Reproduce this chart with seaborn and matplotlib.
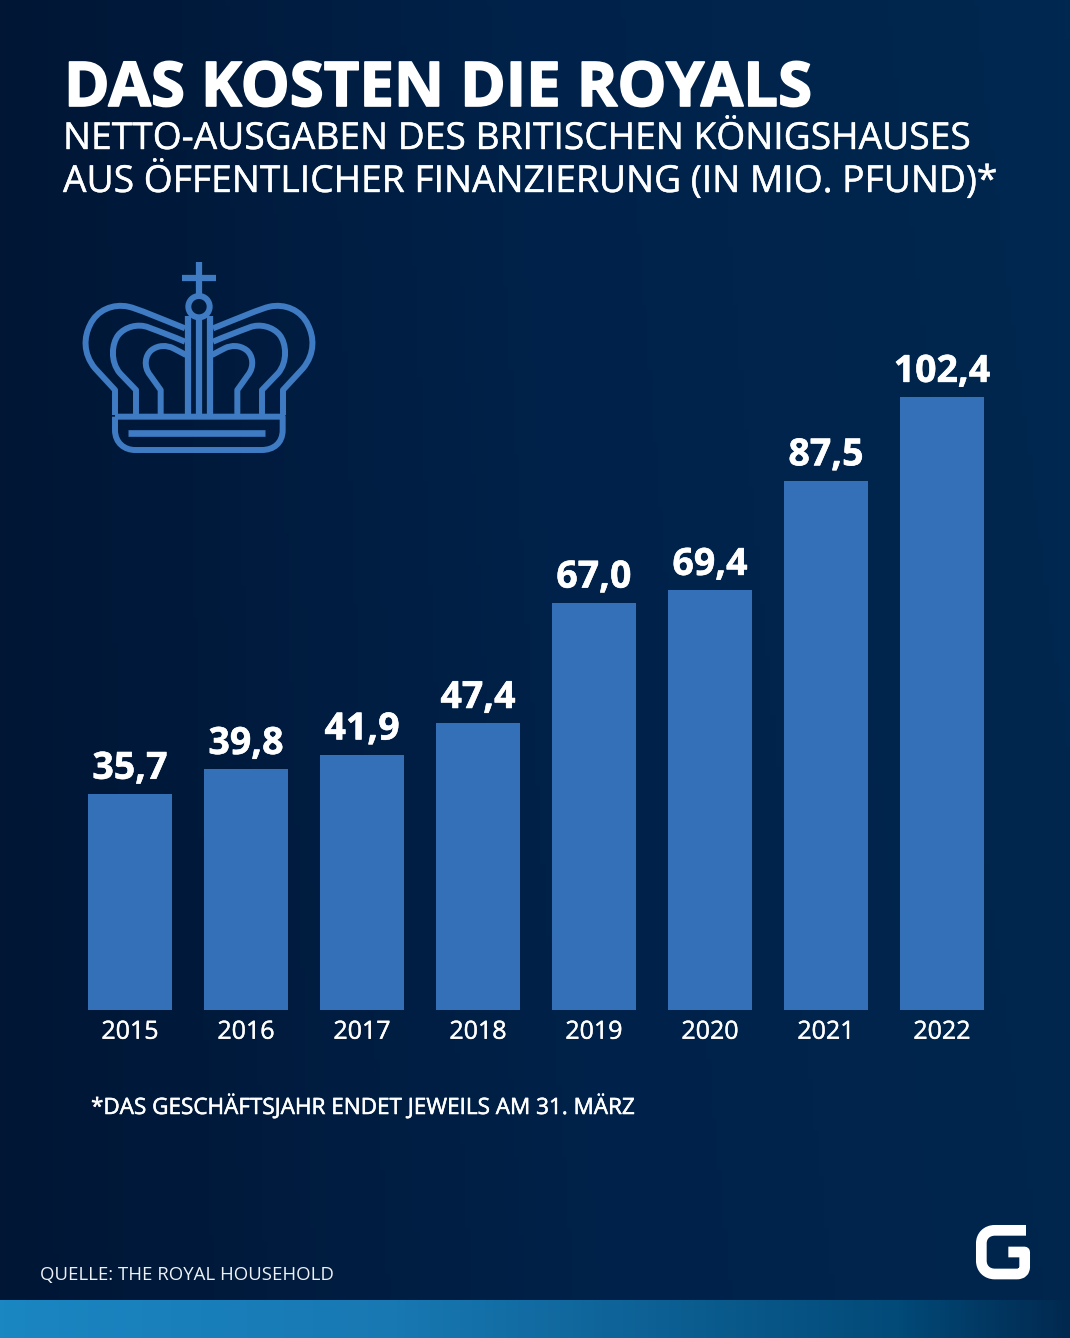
import numpy as np
import pandas as pd
import matplotlib
matplotlib.use("Agg")
import matplotlib.pyplot as plt
import matplotlib.patheffects as pe
from matplotlib.colors import LinearSegmentedColormap
from matplotlib.patches import Circle, PathPatch
from matplotlib.path import Path
import seaborn as sns

years = ["2015", "2016", "2017", "2018", "2019", "2020", "2021", "2022"]
# bar heights as drawn in the picture, which differ slightly from the printed labels
bar_heights = [35.7, 39.8, 42.2, 47.4, 67.3, 69.4, 87.5, 101.3]
value_labels = ["35,7", "39,8", "41,9", "47,4", "67,0", "69,4", "87,5", "102,4"]
title = "DAS KOSTEN DIE ROYALS"
subtitle_1 = "NETTO-AUSGABEN DES BRITISCHEN KÖNIGSHAUSES"
subtitle_2 = "AUS ÖFFENTLICHER FINANZIERUNG (IN MIO. PFUND)*"
footnote = "*DAS GESCHÄFTSJAHR ENDET JEWEILS AM 31. MÄRZ"
source = "QUELLE: THE ROYAL HOUSEHOLD"

W, H = 1070, 1338
BAR = "#3470b8"
CROWN = "#3e7bc2"

sns.set_theme(style="white")
plt.rcParams["font.family"] = ["Open Sans", "DejaVu Sans"]

fig = plt.figure(figsize=(W / 100, H / 100), dpi=100)

# overlay in pixel coordinates for background, icons and headings
bg = fig.add_axes([0, 0, 1, 1], zorder=0)
bg.set_xlim(0, W)
bg.set_ylim(H, 0)
bg.axis("off")

gx, gy = np.meshgrid(np.linspace(0, 1, 200), np.linspace(0, 1, 200))
shade = np.clip(0.85 * gx + 0.15 * gx * (1 - gy), 0, 1)
bg_cmap = LinearSegmentedColormap.from_list("bg", ["#011635", "#00224a", "#012850"])
bg.imshow(shade, cmap=bg_cmap, extent=[0, W, 1300, 0], aspect="auto", vmin=0, vmax=1)
strip_cmap = LinearSegmentedColormap.from_list(
    "strip", [(0, "#1a86c2"), (0.37, "#1878b2"), (0.84, "#024a78"), (1, "#01294f")])
bg.imshow(np.linspace(0, 1, 256)[None, :], cmap=strip_cmap, extent=[0, W, H, 1300], aspect="auto")
bg.set_xlim(0, W)
bg.set_ylim(H, 0)

# chart
ax = fig.add_axes([72 / W, 1 - 1010 / H, 928 / W, 640 / H], zorder=1)
ax.patch.set_alpha(0)
df = pd.DataFrame({"year": years, "cost": bar_heights})
sns.barplot(data=df, x="year", y="cost", color=BAR, saturation=1, width=0.724,
            linewidth=0, ax=ax)
ax.set_xlim(-0.5, 7.5)
ax.set_ylim(0, 640 / 6.05)
sns.despine(ax=ax, left=True, bottom=True)
ax.set_xlabel("")
ax.set_ylabel("")
ax.set_yticks([])
ax.tick_params(axis="x", length=0, pad=7, labelsize=18, labelcolor="white")
for lab in ax.get_xticklabels():
    lab.set_path_effects([pe.withStroke(linewidth=0.3, foreground="white")])
value_texts = ax.bar_label(ax.containers[0], labels=value_labels, padding=4.5,
                           color="white", fontsize=27, fontweight="bold")
for t in value_texts:
    t.set_path_effects([pe.withStroke(linewidth=0.4, foreground="white")])

# headings
bg.text(64, 106, title, color="white", fontsize=44.4, fontweight="bold", va="baseline",
        path_effects=[pe.withStroke(linewidth=1.2, foreground="white")])
sub_fx = [pe.withStroke(linewidth=0.3, foreground="white")]
bg.text(63, 149, subtitle_1, color="white", fontsize=26.8, va="baseline", path_effects=sub_fx)
bg.text(63, 192, subtitle_2, color="white", fontsize=26.8, va="baseline", path_effects=sub_fx)
bg.text(91, 1114, footnote, color="white", fontsize=16.2, va="baseline",
        path_effects=[pe.withStroke(linewidth=0.4, foreground="white")])
bg.text(40, 1280, source, color="#eef2f7", fontsize=13.4, va="baseline")


# crown icon, traced in zoomed crop coordinates
def crown_xy(pts):
    return [(60 + x / 3, 240 + y / 3) for x, y in pts]


def stroke(pts, codes, color=CROWN, lw=4.3, cap="butt"):
    patch = PathPatch(Path(pts, codes), fill=False, edgecolor=color, linewidth=lw,
                      capstyle=cap, joinstyle="round", zorder=3)
    bg.add_patch(patch)


M, L, C = Path.MOVETO, Path.LINETO, Path.CURVE4
arches = [
    ([(165, 525), (165, 450), (105, 385), (68, 340), (72, 290), (90, 255),
      (110, 210), (160, 190), (205, 200), (230, 205), (300, 235), (375, 265)],
     [M, L, L, C, C, C, C, C, C, C, C, C]),
    ([(228, 525), (228, 450), (180, 400), (150, 365), (155, 310), (175, 285),
      (195, 260), (235, 250), (265, 262), (300, 275), (340, 290), (375, 305)],
     [M, L, L, C, C, C, C, C, C, C, C, C]),
    ([(302, 525), (302, 450), (270, 405), (250, 380), (255, 345), (275, 330),
      (295, 315), (320, 315), (340, 325), (350, 330), (365, 338), (378, 345)],
     [M, L, L, C, C, C, C, C, C, C, C, C]),
]
for pts, codes in arches:
    stroke(crown_xy(pts), codes)
    stroke(crown_xy([(834 - x, y) for x, y in pts]), codes)

stroke(crown_xy([(165, 530), (165, 570), (165, 610), (195, 630), (225, 630), (605, 630),
                 (640, 630), (668, 610), (668, 570), (668, 530), (165, 530)]),
       [M, L, C, C, C, L, C, C, C, L, L])
stroke(crown_xy([(205, 578), (615, 578)]), [M, L], lw=4.8)
for x, top in [(385, 228), (417, 240), (450, 228)]:
    stroke(crown_xy([(x, top), (x, 525)]), [M, L], lw=4.5)
stroke(crown_xy([(417, 65), (417, 168)]), [M, L], lw=4.5)
stroke(crown_xy([(365, 115), (468, 115)]), [M, L], lw=4.5)
bg.add_patch(Circle((60 + 417 / 3, 240 + 200 / 3), 32 / 3, fill=False, edgecolor=CROWN,
                    linewidth=4.3, zorder=3))


# logo mark, traced in zoomed crop coordinates
def logo_xy(pts):
    return [(900 + x / 3, 1200 + y / 3) for x, y in pts]


stroke(logo_xy([(378, 91), (285, 91), (260, 91), (244, 108), (244, 130), (244, 182),
                (244, 205), (260, 222), (285, 222), (350, 222), (366, 222), (374, 214),
                (374, 200), (374, 156), (325, 156)]),
       [M, L, C, C, C, L, C, C, C, L, C, C, C, L, L], color="white", lw=7.7)

fig.savefig("out.png", dpi=100)
